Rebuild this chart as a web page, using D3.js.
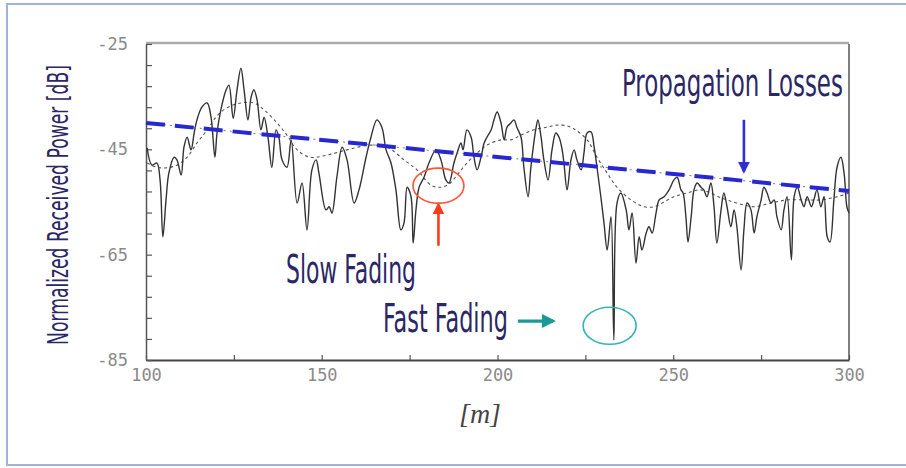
<!DOCTYPE html>
<html>
<head>
<meta charset="utf-8">
<script src="https://cdn.jsdelivr.net/npm/d3@7/dist/d3.min.js"></script>
<style>
body { margin: 0; background: #fff; }
</style>
</head>
<body>
<script>

// distance [m] and received power [dB]
var fastDist = [100.3, 101.7, 103.1, 104.0, 104.8, 105.7, 106.5, 108.0, 108.8, 110.0, 110.8, 111.7, 112.8, 113.7, 114.5, 115.9, 117.4, 118.5, 119.6, 120.2,
    121.3, 122.8, 123.6, 124.8, 125.9, 127.0, 127.9, 129.0, 129.9, 130.7, 131.6, 132.7, 133.6, 134.7, 135.8, 137.0, 137.8, 138.7, 140.1, 141.3,
    143.0, 144.4, 145.8, 147.2, 148.4, 149.2, 151.2, 152.1, 152.9, 154.3, 155.8, 157.2, 159.2, 160.6, 162.6, 164.0, 165.7, 167.1, 168.3, 169.7,
    171.1, 172.5, 173.4, 174.3, 175.4, 176.0, 176.8, 177.7, 179.1, 180.5, 182.5, 183.9, 185.3, 186.2, 187.6, 188.5, 189.6, 190.2, 191.3, 192.5,
    193.3, 194.2, 195.3, 196.2, 197.0, 198.2, 199.0, 199.9, 201.0, 201.9, 202.7, 203.8, 204.7, 205.5, 206.7, 207.5, 208.7, 209.5, 211.0, 211.5,
    212.4, 213.2, 214.4, 215.5, 216.6, 217.5, 218.4, 218.9, 219.8, 220.9, 221.8, 222.6, 223.8, 224.6, 225.5, 226.6, 227.5, 228.3, 229.4, 230.3,
    231.2, 232.3, 233.1, 234.0, 235.1, 236.6, 237.4, 238.3, 239.4, 240.3, 241.1, 242.3, 243.1, 244.0, 245.1, 246.0, 247.4, 248.8, 250.2, 251.1,
    252.2, 252.8, 253.6, 254.2, 255.1, 255.9, 256.8, 257.9, 258.7, 259.6, 260.7, 261.6, 262.4, 263.6, 264.4, 265.3, 266.4, 267.3, 268.1, 269.3,
    270.1, 271.0, 272.1, 273.0, 273.8, 275.0, 275.8, 276.7, 277.8, 278.7, 279.5, 280.7, 281.5, 282.4, 283.6, 284.4, 285.3, 286.4, 287.2, 288.1,
    289.3, 290.0, 290.9, 292.0, 292.9, 293.8, 294.6, 295.7, 296.6, 297.7, 298.6, 299.4, 300.0];
var fastPower = [-44.7, -48.0, -47.6, -50.8, -61.6, -54.6, -49.5, -46.5, -47.0, -49.9, -44.6, -42.7, -45.1, -41.9, -39.4, -37.0, -36.2, -38.9, -46.5, -41.9,
    -37.5, -33.7, -32.8, -39.1, -33.7, -29.6, -33.7, -39.4, -35.1, -33.7, -35.6, -41.3, -38.9, -42.7, -48.4, -41.3, -42.7, -47.0, -48.4, -43.2,
    -55.2, -51.4, -60.3, -48.9, -47.0, -49.5, -56.5, -55.9, -57.1, -50.3, -44.6, -47.0, -55.2, -52.7, -46.5, -42.7, -39.4, -40.8, -45.1, -47.6,
    -52.7, -60.3, -59.0, -52.2, -54.0, -62.8, -56.5, -52.2, -50.3, -47.6, -45.1, -47.0, -50.8, -51.4, -47.6, -45.7, -43.8, -45.1, -41.3, -42.7,
    -46.5, -48.9, -46.5, -43.8, -42.7, -41.3, -39.4, -37.9, -40.0, -43.2, -40.8, -40.0, -39.4, -40.8, -42.7, -48.4, -54.0, -48.4, -40.8, -39.4,
    -42.7, -47.0, -50.8, -45.1, -41.9, -42.7, -45.1, -47.6, -52.7, -47.0, -45.1, -47.0, -48.9, -45.7, -41.9, -41.7, -44.6, -48.4, -54.0, -59.0,
    -64.1, -57.8, -81.2, -55.2, -53.3, -56.5, -60.3, -57.1, -66.6, -61.6, -64.1, -60.9, -59.7, -60.9, -57.1, -54.6, -54.0, -52.7, -50.8, -50.3,
    -52.7, -53.3, -57.8, -62.6, -57.8, -52.7, -51.4, -52.2, -52.7, -54.0, -51.4, -55.9, -62.8, -56.5, -53.3, -55.9, -59.7, -56.5, -59.7, -67.9,
    -60.3, -55.2, -56.5, -60.9, -57.8, -54.6, -52.2, -53.3, -55.2, -54.6, -57.8, -60.3, -56.5, -54.0, -66.0, -54.0, -52.2, -54.6, -55.9, -54.0,
    -55.9, -54.6, -52.7, -55.9, -54.0, -61.6, -62.6, -54.6, -48.4, -46.5, -49.5, -55.9, -57.1];

// local mean (slow fading)
var slowDist = [100.3, 103.1, 106.0, 108.8, 111.7, 114.5, 117.4, 119.9, 122.8, 127.0, 130.7, 133.6, 137.3, 140.1, 143.0, 146.7, 151.5, 157.2, 164.0, 168.6,
    173.4, 177.1, 181.1, 183.9, 186.2, 188.5, 191.3, 194.2, 197.0, 201.0, 203.8, 206.7, 210.4, 214.1, 216.9, 220.1, 222.6, 225.5, 228.3, 231.2,
    234.0, 238.0, 241.7, 244.5, 247.4, 250.2, 253.9, 257.9, 263.6, 268.1, 273.0, 277.8, 282.4, 287.2, 292.0, 296.6, 300.0];
var slowPower = [-47.6, -48.4, -48.5, -48.0, -46.5, -43.8, -41.3, -38.9, -37.2, -36.2, -36.2, -37.5, -40.0, -42.3, -45.1, -46.5, -46.1, -45.1, -44.2, -44.6,
    -47.0, -48.9, -51.8, -52.2, -51.6, -49.9, -47.6, -45.7, -44.2, -43.2, -43.2, -42.3, -41.3, -40.8, -40.4, -40.6, -41.5, -43.2, -46.5, -49.5,
    -52.2, -54.6, -55.9, -55.9, -55.0, -54.0, -53.3, -52.7, -54.2, -55.2, -55.9, -55.2, -54.6, -54.6, -54.6, -54.0, -53.3];

// path loss trend
var lossDist = [100, 300];
var lossPower = [-40.0, -52.9];

var xTicks = [100, 125, 150, 175, 200, 225, 250, 275, 300];
var yTicks = [-25, -29, -33, -37, -41, -45, -49, -53, -57, -61, -65, -69, -73, -77, -81, -85];
var yLabels = [-25, -45, -65, -85];

var width = 906,
    height = 468;

var x = d3.scaleLinear().domain([100, 300]).range([146, 849]);
var y = d3.scaleLinear().domain([-25, -85]).range([44, 360]);

var svg = d3.select("body").append("svg")
    .attr("width", width)
    .attr("height", height);

// light blue frame around the figure
svg.append("rect")
    .attr("x", 7).attr("y", 4)
    .attr("width", 910).attr("height", 461)
    .attr("fill", "none")
    .attr("stroke", "#9fb4d8")
    .attr("stroke-width", 2);

// plot box: top and right borders
svg.append("line")
    .attr("x1", x(100)).attr("x2", x(300))
    .attr("y1", y(-25) - 1).attr("y2", y(-25) - 1)
    .attr("stroke", "#aaa").attr("stroke-width", 2.5);
svg.append("line")
    .attr("x1", x(300)).attr("x2", x(300))
    .attr("y1", y(-25)).attr("y2", y(-85))
    .attr("stroke", "#555").attr("stroke-width", 1.5);

var tickFont = "'DejaVu Sans Mono', 'Liberation Mono', monospace";

var gx = svg.append("g")
    .attr("transform", "translate(0," + y(-85) + ")")
    .call(d3.axisBottom(x)
        .tickValues(xTicks)
        .tickSizeInner(-5)
        .tickSizeOuter(0)
        .tickPadding(9)
        .tickFormat(function(d) { return d % 50 ? "" : d; }));
gx.select(".domain").attr("stroke", "#444").attr("stroke-width", 2);
gx.selectAll(".tick line").attr("stroke", "#555").attr("stroke-width", 1.2);
gx.selectAll(".tick text")
    .attr("fill", "#8a8a8a")
    .style("font-family", tickFont)
    .style("font-size", "17px");

var gy = svg.append("g")
    .attr("transform", "translate(" + x(100) + ",0)")
    .call(d3.axisLeft(y)
        .tickValues(yTicks)
        .tickSizeInner(-6)
        .tickSizeOuter(0)
        .tickPadding(18)
        .tickFormat(function(d) { return yLabels.indexOf(d) >= 0 ? d : ""; }));
gy.select(".domain").attr("stroke", "#555").attr("stroke-width", 1.5);
gy.selectAll(".tick line").attr("stroke", "#555").attr("stroke-width", 1.2);
gy.selectAll(".tick text")
    .attr("fill", "#8a8a8a")
    .style("font-family", tickFont)
    .style("font-size", "17px");

// the curves
var line = d3.line()
    .x(function(d) { return x(d[0]); })
    .y(function(d) { return y(d[1]); })
    .curve(d3.curveCatmullRom.alpha(0.5));

svg.append("path")
    .datum(d3.zip(slowDist, slowPower))
    .attr("d", line)
    .attr("fill", "none")
    .attr("stroke", "#555")
    .attr("stroke-width", 1.1)
    .attr("stroke-dasharray", "3,3");

svg.append("path")
    .datum(d3.zip(fastDist, fastPower))
    .attr("d", line)
    .attr("fill", "none")
    .attr("stroke", "#333")
    .attr("stroke-width", 1.4)
    .attr("stroke-linejoin", "round");

var loss = d3.zip(lossDist, lossPower);
var straight = d3.line().x(function(d) { return x(d[0]); }).y(function(d) { return y(d[1]); });
svg.append("path")
    .datum(loss)
    .attr("d", straight)
    .attr("stroke", "#777")
    .attr("stroke-width", 1)
    .attr("stroke-dasharray", "2,4");
svg.append("path")
    .datum(loss)
    .attr("d", straight)
    .attr("stroke", "#2828d0")
    .attr("stroke-width", 4)
    .attr("stroke-dasharray", "19,10");

// annotations
var defs = svg.append("defs");
function marker(id, color) {
    defs.append("marker")
        .attr("id", id)
        .attr("viewBox", "0 0 10 10")
        .attr("refX", 8).attr("refY", 5)
        .attr("markerWidth", 4.5).attr("markerHeight", 4.5)
        .attr("orient", "auto")
        .append("path")
        .attr("d", "M0,0L10,5L0,10z")
        .attr("fill", color);
}
marker("head-blue", "#3030d0");
marker("head-red", "#ff3a1a");
marker("head-teal", "#1a9a96");

function arrow(x1, y1, x2, y2, color, id, w) {
    svg.append("line")
        .attr("x1", x(x1)).attr("y1", y(y1))
        .attr("x2", x(x2)).attr("y2", y(y2))
        .attr("stroke", color)
        .attr("stroke-width", w)
        .attr("marker-end", "url(#" + id + ")");
}
arrow(270.1, -39.4, 270.1, -49.2, "#3030d0", "head-blue", 2.6);
arrow(183.2, -63.3, 183.2, -55.5, "#ff3a1a", "head-red", 2.6);
arrow(205.8, -77.6, 215.8, -77.6, "#1a9a96", "head-teal", 3.2);

svg.append("ellipse")
    .attr("cx", x(183.2)).attr("cy", y(-51.9))
    .attr("rx", 25.5).attr("ry", 17.5)
    .attr("fill", "none").attr("stroke", "#ff5533").attr("stroke-width", 1.6);
svg.append("ellipse")
    .attr("cx", x(231.9)).attr("cy", y(-78.5))
    .attr("rx", 26.5).attr("ry", 18.5)
    .attr("fill", "none").attr("stroke", "#33b5b0").attr("stroke-width", 1.6);

// condensed labels: squeeze horizontally to the width seen in the picture
var labelFont = "'Liberation Sans Narrow', 'DejaVu Sans Condensed', 'Roboto', sans-serif";
function label(txt, px, py, len, size, rotate) {
    var t = svg.append("text")
        .attr("text-anchor", rotate ? "middle" : "start")
        .attr("fill", "#2b2766")
        .style("font-family", labelFont)
        .style("font-size", size + "px")
        .text(txt);
    var k = len / t.node().getComputedTextLength();
    t.attr("transform", "translate(" + px + "," + py + ")" + (rotate ? " rotate(-90)" : "") + " scale(" + k + ",1)");
}
label("Propagation Losses", 622, 96, 221, 38);
label("Slow Fading", 286, 283, 130, 39);
label("Fast Fading", 383, 332, 125, 39);
label("Normalized Received Power [dB]", 68, 205, 280, 28, true);

svg.append("text")
    .attr("x", 480).attr("y", 423)
    .attr("text-anchor", "middle")
    .attr("fill", "#444")
    .style("font-family", "'Liberation Serif', 'DejaVu Serif', serif")
    .style("font-style", "italic")
    .style("font-size", "28px")
    .text("[m]");

</script>
</body>
</html>
